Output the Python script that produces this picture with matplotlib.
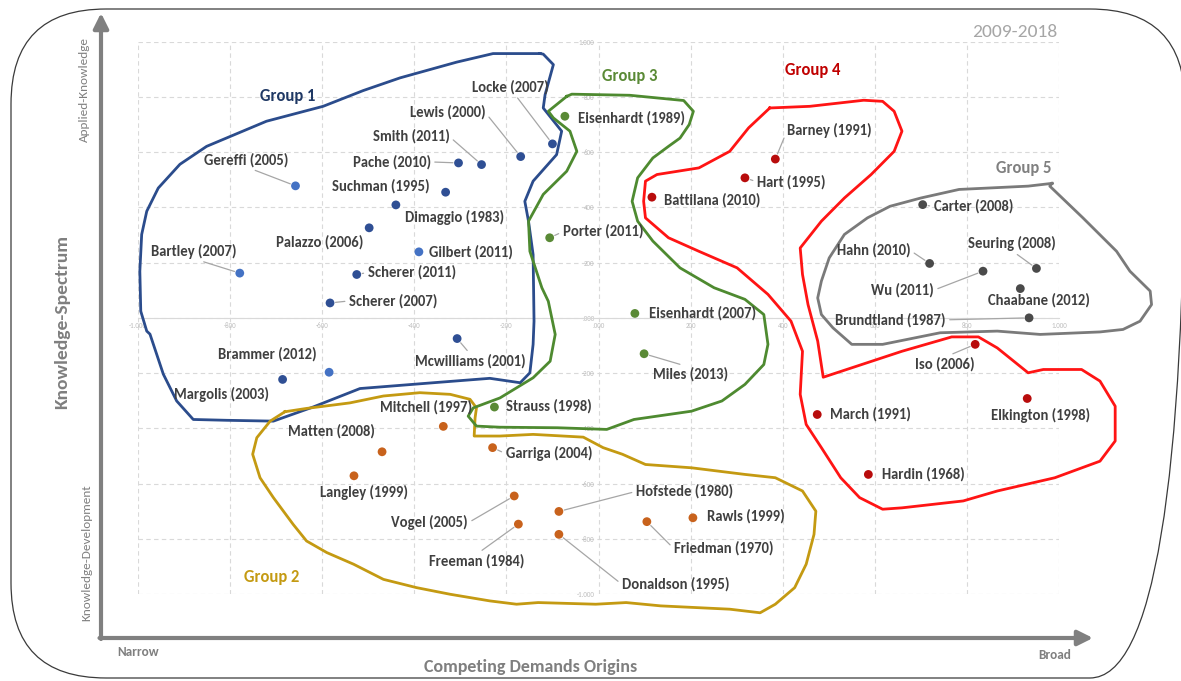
import numpy as np
import matplotlib
matplotlib.use('Agg')
import matplotlib.pyplot as plt
from matplotlib.patches import FancyBboxPatch

plt.rcParams['font.family'] = ['Carlito', 'Liberation Sans Narrow', 'Open Sans', 'DejaVu Sans']

W, H = 1181, 681

# ---- points (chart units, -1000..1000 on both axes) ----
g1_names = ['Locke (2007)', 'Lewis (2000)', 'Smith (2011)', 'Pache (2010)', 'Suchman (1995)',
            'Dimaggio (1983)', 'Gereffi (2005)', 'Palazzo (2006)', 'Gilbert (2011)', 'Bartley (2007)',
            'Scherer (2011)', 'Scherer (2007)', 'Mcwilliams (2001)', 'Brammer (2012)', 'Margolis (2003)']
g1_x = [-100, -169, -254, -304, -332, -440, -658, -498, -390, -779, -525, -583, -307, -585, -686]
g1_y = [630, 584, 555, 561, 455, 409, 478, 326, 239, 162, 157, 54, -75, -197, -223]

g2_names = ['Mitchell (1997)', 'Matten (2008)', 'Langley (1999)', 'Garriga (2004)', 'Vogel (2005)',
            'Freeman (1984)', 'Hofstede (1980)', 'Donaldson (1995)', 'Friedman (1970)', 'Rawls (1999)']
g2_x = [-337, -470, -531, -230, -183, -174, -86, -86, 105, 205]
g2_y = [-393, -485, -572, -470, -645, -747, -701, -784, -738, -724]

g3_names = ['Eisenhardt (1989)', 'Porter (2011)', 'Eisenhardt (2007)', 'Miles (2013)', 'Strauss (1998)']
g3_x = [-73, -106, 79, 99, -226]
g3_y = [730, 290, 16, -130, -323]

g4_names = ['Barney (1991)', 'Hart (1995)', 'Battilana (2010)', 'March (1991)', 'Hardin (1968)',
            'Iso (2006)', 'Elkington (1998)']
g4_x = [384, 318, 116, 475, 586, 818, 931]
g4_y = [575, 507, 437, -350, -567, -96, -292]

g5_names = ['Carter (2008)', 'Hahn (2010)', 'Seuring (2008)', 'Wu (2011)', 'Chaabane (2012)',
            'Brundtland (1987)']
g5_x = [704, 719, 951, 835, 916, 935]
g5_y = [410, 197, 179, 169, 106, 0]

# ---- hand drawn group outlines (chart units) ----
o1_x = [-127, -229, -308, -431, -511, -598, -721, -851, -909, -956, -981, -992, -996, -994, -981,
        -974, -945, -916, -880, -807, -706, -620, -518, -359, -236, -170, -149, -142, -140, -142,
        -152, -160, -142, -91, -80, -120, -116, -98, -120]
o1_y = [957, 957, 926, 869, 823, 766, 712, 621, 556, 470, 386, 302, 169, 24, -48,
        -59, -204, -301, -368, -371, -374, -323, -256, -235, -219, -235, -199, -96, -12, 229,
        350, 422, 495, 591, 676, 760, 808, 917, 955]

o2_x = [-681, -634, -540, -467, -388, -322, -279, -265, -268, -270, -214, -142, -33, 10, 52, 102,
        202, 318, 384, 443, 472, 468, 451, 426, 384, 351, 285, 135, 60, -6, -131, -178, -236,
        -322, -395, -467, -532, -590, -634, -663, -706, -735, -751, -742, -713]
o2_y = [-340, -328, -308, -283, -271, -277, -295, -326, -362, -428, -428, -422, -432, -470, -494,
        -531, -543, -567, -579, -627, -700, -784, -892, -977, -1037, -1068, -1055, -1043, -1031,
        -1037, -1031, -1037, -1025, -1001, -977, -947, -892, -850, -808, -748, -651, -579, -494,
        -434, -374]

o3_x = [-69, -58, 68, 185, 206, 197, 177, 152, 118, 85, 73, 85, 118, 177, 251, 318, 359, 368, 359,
        318, 268, 202, 77, 18, -89, -214, -265, -283, -272, -214, -142, -105, -94, -109, -123, -149,
        -152, -120, -69, -47, -62, -98, -109]
o3_y = [802, 810, 806, 787, 748, 700, 651, 621, 579, 507, 422, 350, 278, 181, 109, 67, 12, -96,
        -169, -241, -301, -338, -368, -404, -398, -396, -392, -356, -326, -290, -217, -157, -60, 60,
        109, 241, 350, 447, 531, 603, 676, 724, 748]

o4_x = [372, 459, 576, 617, 642, 659, 642, 592, 534, 484, 438, 443, 455, 476, 488, 659, 767, 825,
        866, 933, 966, 1049, 1089, 1122, 1122, 1089, 991, 866, 792, 659, 617, 567, 526, 484, 451,
        438, 443, 418, 368, 301, 218, 152, 102, 98, 102, 127, 218, 285, 326]
o4_y = [760, 766, 788, 784, 748, 676, 603, 519, 434, 350, 253, 157, 48, -84, -215, -121, -69, -69,
        -109, -199, -187, -187, -229, -320, -446, -519, -579, -627, -663, -688, -693, -651, -579,
        -470, -386, -277, -121, -12, 85, 181, 241, 290, 362, 422, 495, 519, 543, 603, 688]

o5_x = [985, 933, 783, 700, 633, 584, 534, 501, 484, 476, 484, 509, 550, 617, 742, 866, 959, 1089,
        1139, 1176, 1201, 1198, 1154, 1125, 1052, 980]
o5_y = [487, 477, 465, 434, 404, 362, 302, 217, 133, 72, 12, -36, -96, -96, -54, -48, -60, -51,
        -42, -12, 48, 97, 169, 241, 362, 477]

groups = [
    ('Group 1', g1_names, g1_x, g1_y, o1_x, o1_y),
    ('Group 2', g2_names, g2_x, g2_y, o2_x, o2_y),
    ('Group 3', g3_names, g3_x, g3_y, o3_x, o3_y),
    ('Group 4', g4_names, g4_x, g4_y, o4_x, o4_y),
    ('Group 5', g5_names, g5_x, g5_y, o5_x, o5_y),
]

# ---- styles ----
point_col = {'Group 1': '#2f4f94', 'Group 2': '#c8621c', 'Group 3': '#5a8a36',
             'Group 4': '#b80c0c', 'Group 5': '#4a4a4a'}
light_blue = {'Gereffi (2005)', 'Gilbert (2011)', 'Bartley (2007)', 'Brammer (2012)'}
line_col = {'Group 1': '#2b4c8c', 'Group 2': '#c49a12', 'Group 3': '#4e8a30',
            'Group 4': '#ff1414', 'Group 5': '#7a7a7a'}
title_col = {'Group 1': '#1f3864', 'Group 2': '#c49a12', 'Group 3': '#5a8a36',
             'Group 4': '#c00000', 'Group 5': '#808080'}
title_pos = {'Group 1': (-674, 802), 'Group 2': (-710, -938), 'Group 3': (68, 875),
             'Group 4': (465, 896), 'Group 5': (924, 543)}

# label offset in pixels from the point, and leader start (relpos) if any
label_pos = {
    'Locke (2007)': (-80, 57, (0.55, 0)), 'Lewis (2000)': (-111, 44, (1, 0.5)),
    'Smith (2011)': (-109, 28, (1, 0.5)), 'Pache (2010)': (-106, 1, (1, 0.5)),
    'Suchman (1995)': (-114, 6, None), 'Dimaggio (1983)': (9, -13, None),
    'Gereffi (2005)': (-91, 26, (0.5, 0)), 'Palazzo (2006)': (-93, -14, None),
    'Gilbert (2011)': (10, 0, None), 'Bartley (2007)': (-89, 22, (0.5, 0)),
    'Scherer (2011)': (11, 2, (0, 0.5)), 'Scherer (2007)': (19, 2, (0, 0.5)),
    'Mcwilliams (2001)': (-42, -23, (0.5, 1)), 'Brammer (2012)': (-111, 18, None),
    'Margolis (2003)': (-109, -15, None),
    'Mitchell (1997)': (-63, 19, None), 'Matten (2008)': (-94, 20, None),
    'Langley (1999)': (-34, -17, None), 'Garriga (2004)': (13, -6, (0, 0.5)),
    'Vogel (2005)': (-123, -27, (1, 0.5)), 'Freeman (1984)': (-89, -37, (0.5, 1)),
    'Hofstede (1980)': (77, 20, (0, 0.5)), 'Donaldson (1995)': (63, -50, (0, 0.5)),
    'Friedman (1970)': (27, -27, (0, 0.5)), 'Rawls (1999)': (14, 1, None),
    'Eisenhardt (1989)': (13, -2, None), 'Porter (2011)': (13, 6, (0, 0.5)),
    'Eisenhardt (2007)': (14, 0, None), 'Miles (2013)': (9, -21, (0.5, 1)),
    'Strauss (1998)': (12, 1, None),
    'Barney (1991)': (12, 29, (0, 0.5)), 'Hart (1995)': (12, -4, (0, 0.5)),
    'Battilana (2010)': (12, -3, None), 'March (1991)': (13, 0, None),
    'Hardin (1968)': (14, 0, None), 'Iso (2006)': (-60, -20, (0.5, 1)),
    'Elkington (1998)': (-36, -17, None),
    'Carter (2008)': (11, -2, (0, 0.5)), 'Hahn (2010)': (-93, 13, (1, 0.5)),
    'Seuring (2008)': (-68, 25, (0.5, 0)), 'Wu (2011)': (-112, -19, (1, 0.5)),
    'Chaabane (2012)': (-32, -12, None), 'Brundtland (1987)': (-194, -2, (1, 0.5)),
}


def tick_fmt(v, pos=None):
    v = int(round(v))
    if v == 0:
        return '.000'
    if abs(v) == 1000:
        return '-1.000' if v < 0 else '1.000'
    return str(v)


fig = plt.figure(figsize=(W / 100, H / 100), dpi=100)

# overlay in pixel units for the frame, arrows and outer titles
ov = fig.add_axes([0, 0, 1, 1])
ov.set_xlim(0, W)
ov.set_ylim(H, 0)
ov.axis('off')
ov.add_patch(FancyBboxPatch((11, 9), 1174, 669, boxstyle='round,pad=0,rounding_size=95',
                            fc='none', ec='#3a3a3a', lw=0.9, clip_on=False))
arr = dict(arrowstyle='-|>,head_length=0.9,head_width=0.45', lw=3, color='#808080',
           shrinkA=0, shrinkB=0)
ov.annotate('', xy=(101, 13), xytext=(101, 639), arrowprops=arr)
ov.annotate('', xy=(1093, 638), xytext=(99.5, 638), arrowprops=arr)
grey = '#7f7f7f'
ov.text(62, 322, 'Knowledge-Spectrum', rotation=90, ha='center', va='center',
        fontsize=14, color=grey, fontweight='bold')
ov.text(84, 90, 'Applied-Knowledge', rotation=90, ha='center', va='center', fontsize=9.5, color=grey)
ov.text(87, 553, 'Knowledge-Development', rotation=90, ha='center', va='center', fontsize=9.5, color=grey)
ov.text(138, 652, 'Narrow', ha='center', va='center', fontsize=9.5, color=grey, fontweight='bold')
ov.text(1055, 655, 'Broad', ha='center', va='center', fontsize=9.5, color=grey, fontweight='bold')
ov.text(531, 667, 'Competing Demands Origins', ha='center', va='center', fontsize=13,
        color=grey, fontweight='bold')
ov.text(1015, 32, '2009-2018', ha='center', va='center', fontsize=14, color='#a6a6a6')

# main chart
ax = fig.add_axes([138 / W, 87 / H, 921 / W, 552.3 / H])
ax.patch.set_alpha(0)
ax.set_xlim(-1000, 1000)
ax.set_ylim(-1000, 1000)
ticks = np.arange(-1000, 1001, 200)
ax.set_xticks(ticks)
ax.set_yticks(ticks)
ax.xaxis.set_major_formatter(tick_fmt)
ax.yaxis.set_major_formatter(tick_fmt)
ax.grid(True, ls=(0, (4, 3)), color='#d9d9d9', lw=0.8)
ax.set_axisbelow(True)
for s in ['top', 'right']:
    ax.spines[s].set_visible(False)
ax.spines['bottom'].set_position(('data', 0))
ax.spines['bottom'].set_color('#d9d9d9')
ax.spines['left'].set_position(('data', 0))
ax.spines['left'].set_color('none')
ax.tick_params(length=0, labelsize=5, labelcolor='#bfbfbf', pad=3)

for gname, names, gx, gy, ox, oy in groups:
    ax.plot(ox + [ox[0]], oy + [oy[0]], color=line_col[gname], lw=2.0, clip_on=False,
            solid_joinstyle='round', zorder=3)
    cols = ['#4472c4' if n in light_blue else point_col[gname] for n in names]
    ax.scatter(gx, gy, s=40, c=cols, zorder=5, clip_on=False, edgecolors='none')
    for n, x, y in zip(names, gx, gy):
        dx, dy, rel = label_pos[n]
        props = None
        if rel is not None:
            props = dict(arrowstyle='-', color='#a6a6a6', lw=0.9, relpos=rel,
                         shrinkA=1, shrinkB=4)
        ax.annotate(n, xy=(x, y), xytext=(dx, dy), textcoords='offset pixels',
                    ha='left', va='center', fontsize=10.5, fontweight='bold',
                    color='#404040', arrowprops=props, zorder=6, annotation_clip=False)
    tx, ty = title_pos[gname]
    ax.text(tx, ty, gname, ha='center', va='center', fontsize=12, fontweight='bold',
            color=title_col[gname], zorder=6)

fig.savefig('out.png', dpi=100)
